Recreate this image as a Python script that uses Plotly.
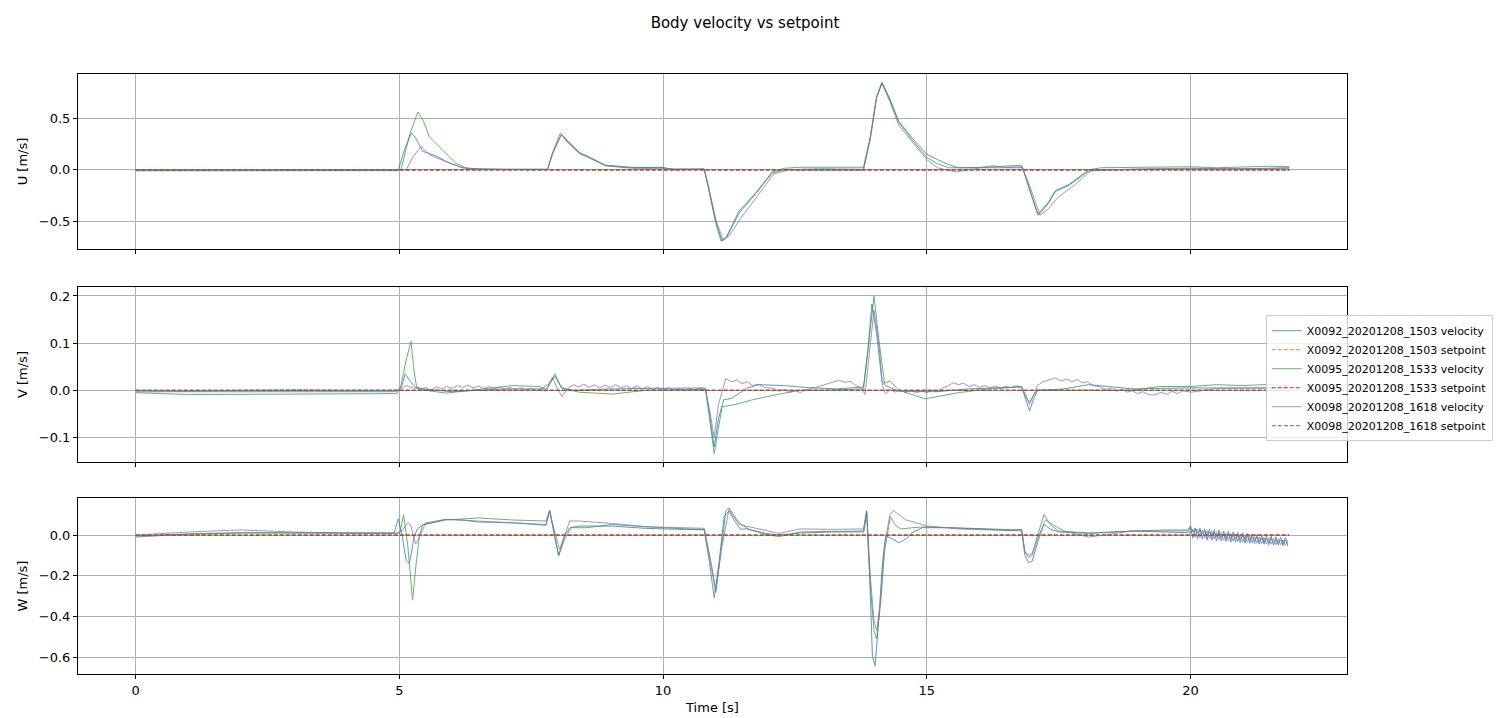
import plotly.graph_objects as go

# ---------------- data: (time [s], value [m/s]) ----------------
T_END = 21.875

# Surge velocity U
U_X0092 = [(0, 0.0), (4.9, 0.0), (4.98, 0.0), (5.1, 0.2), (5.23, 0.36), (5.32, 0.3), (5.44, 0.18),
           (5.69, 0.136), (5.95, 0.065), (6.2, 0.02), (6.5, 0.01), (7.0, 0.005), (7.81, 0.005),
           (7.9, 0.15), (8.07, 0.34), (8.2, 0.27), (8.41, 0.16), (8.57, 0.13), (8.75, 0.08),
           (8.91, 0.04), (9.4, 0.02), (9.98, 0.025), (10.2, 0.0), (10.78, 0.005), (10.85, -0.15),
           (11.0, -0.5), (11.12, -0.69), (11.2, -0.66), (11.44, -0.42), (11.76, -0.23),
           (12.07, -0.03), (12.3, 0.0), (12.6, 0.005), (13.0, 0.01), (13.8, 0.005), (13.93, 0.31),
           (14.05, 0.7), (14.15, 0.84), (14.3, 0.68), (14.47, 0.47), (14.72, 0.31), (15.0, 0.15),
           (15.2, 0.1), (15.42, 0.05), (15.6, 0.02), (16.0, 0.02), (16.3, 0.025), (16.82, 0.02),
           (16.95, -0.2), (17.12, -0.44), (17.3, -0.33), (17.44, -0.21), (17.7, -0.15),
           (18.07, -0.01), (18.5, 0.0), (19.0, 0.005), (20.0, 0.01), (21.0, 0.01), (T_END, 0.02)]

U_X0095 = [(0, -0.01), (2, -0.01), (4.95, -0.008), (5.03, 0.0), (5.2, 0.35), (5.35, 0.56), (5.45, 0.48),
           (5.57, 0.32), (5.7, 0.25), (5.82, 0.19), (6.07, 0.065), (6.29, 0.01), (6.6, 0.005),
           (7.81, 0.005), (7.9, 0.16), (8.05, 0.355), (8.2, 0.28), (8.41, 0.17), (8.57, 0.13),
           (8.91, 0.045), (9.4, 0.025), (9.98, 0.02), (10.2, 0.005), (10.78, 0.01), (10.85, -0.15),
           (11.0, -0.52), (11.1, -0.69), (11.2, -0.65), (11.44, -0.4), (11.76, -0.22), (12.07, -0.02),
           (12.3, 0.015), (12.6, 0.025), (13.0, 0.025), (13.8, 0.025), (13.93, 0.32), (14.05, 0.71),
           (14.15, 0.85), (14.3, 0.69), (14.47, 0.46), (14.72, 0.29), (15.0, 0.12), (15.2, 0.06),
           (15.42, 0.02), (15.8, 0.02), (16.3, 0.03), (16.6, 0.04), (16.8, 0.045), (16.95, -0.18),
           (17.1, -0.43), (17.3, -0.32), (17.44, -0.2), (17.7, -0.14), (18.07, 0.0), (18.3, 0.02),
           (19.0, 0.025), (20.0, 0.03), (20.5, 0.02), (21.0, 0.03), (21.5, 0.035), (T_END, 0.03)]

U_X0098 = [(0, 0.0), (5.1, 0.0), (5.13, 0.0), (5.25, 0.12), (5.41, 0.226), (5.57, 0.146), (5.88, 0.08),
           (6.2, 0.02), (6.5, 0.005), (7.81, 0.0), (7.9, 0.15), (8.07, 0.34), (8.2, 0.26), (8.41, 0.16),
           (8.57, 0.12), (8.91, 0.04), (9.4, 0.015), (10.0, 0.01), (10.78, 0.005), (10.85, -0.13),
           (11.0, -0.48), (11.14, -0.68), (11.25, -0.64), (11.5, -0.45), (11.8, -0.24), (12.1, -0.04),
           (12.4, 0.0), (12.6, -0.005), (13.0, -0.005), (13.8, -0.005), (13.93, 0.3), (14.05, 0.7),
           (14.15, 0.84), (14.3, 0.66), (14.47, 0.43), (14.72, 0.27), (15.0, 0.1), (15.2, 0.02),
           (15.55, -0.02), (15.8, 0.0), (16.24, 0.04), (16.5, 0.025), (16.8, 0.03), (16.95, -0.15),
           (17.15, -0.44), (17.3, -0.38), (17.5, -0.26), (17.8, -0.15), (18.1, -0.01), (19.0, 0.01),
           (20.0, 0.015), (21.0, 0.01), (T_END, 0.015)]

# Sway velocity V
V_X0092 = [(0, -0.003), (2, -0.003), (4.95, -0.003), (5.05, 0.01), (5.11, 0.035), (5.2, 0.02),
           (5.3, 0.007), (5.5, 0.002), (6.0, -0.003), (6.5, 0.0), (7.0, 0.003), (7.7, 0.003),
           (7.85, 0.015), (7.95, 0.03), (8.08, 0.005), (8.3, 0.0), (9.0, 0.003), (9.7, 0.004),
           (10.3, 0.005), (10.8, 0.005), (10.88, -0.05), (10.97, -0.12), (11.05, -0.06),
           (11.15, -0.02), (11.3, -0.017), (11.6, 0.005), (11.82, 0.012), (12.3, 0.01), (12.7, 0.006),
           (13.3, 0.003), (13.8, 0.007), (13.88, 0.08), (13.96, 0.183), (14.05, 0.12), (14.15, 0.02),
           (14.22, 0.01), (14.47, -0.002), (15.19, -0.003), (15.8, 0.003), (16.8, 0.007),
           (16.88, -0.02), (16.95, -0.044), (17.02, -0.02), (17.1, 0.0), (17.6, 0.003),
           (18.07, 0.012), (18.9, 0.003), (20.0, 0.005), (21.0, 0.005), (T_END, 0.005)]

V_X0095 = [(0, -0.005), (1, -0.009), (3, -0.008), (4.95, -0.007), (5.02, 0.005), (5.12, 0.06),
           (5.22, 0.104), (5.28, 0.04), (5.33, 0.005), (5.5, 0.0), (5.88, -0.006), (6.5, 0.002),
           (7.15, 0.01), (7.65, 0.008), (7.8, 0.002), (7.95, 0.035), (8.07, 0.005), (8.41, -0.004),
           (9.04, -0.008), (9.67, 0.0), (10.81, 0.002), (10.88, -0.06), (10.97, -0.134),
           (11.05, -0.08), (11.12, -0.035), (11.37, -0.03), (11.7, -0.02), (12.2, -0.008),
           (12.6, 0.0), (13.0, 0.0), (13.8, 0.003), (13.9, 0.1), (14.0, 0.2), (14.1, 0.1),
           (14.2, 0.015), (14.3, 0.02), (14.47, 0.0), (14.97, -0.018), (15.6, -0.005), (16.1, 0.002),
           (16.8, 0.008), (16.88, -0.015), (16.95, -0.025), (17.03, -0.01), (17.1, 0.0), (17.6, 0.0),
           (18.9, 0.0), (19.4, 0.008), (20.0, 0.008), (20.5, 0.012), (20.97, 0.01), (21.4, 0.012),
           (T_END, 0.01)]

V_X0098 = [(0, 0.0), (1, -0.002), (2, 0.0), (3, 0.001), (4, 0.0), (4.95, 0.0), (5.05, 0.004),
           (5.1, 0.008), (5.15, 0.01), (5.2, 0.007), (5.3, 0.004), (5.4, 0.002), (5.5, 0.006),
           (5.6, 0.0), (5.7, 0.007), (5.8, 0.003), (5.9, 0.008), (6.0, 0.004), (6.1, 0.01),
           (6.2, 0.006), (6.3, 0.011), (6.4, 0.005), (6.5, 0.009), (6.6, 0.004), (6.7, 0.008),
           (6.8, 0.003), (6.9, 0.007), (7.0, 0.002), (7.1, 0.006), (7.2, 0.001), (7.3, 0.005),
           (7.4, 0.0), (7.5, 0.004), (7.6, -0.001), (7.7, 0.003), (7.78, -0.002), (7.9, 0.028),
           (7.97, 0.01), (8.08, -0.013), (8.2, 0.004), (8.3, 0.012), (8.4, 0.007), (8.5, 0.013),
           (8.6, 0.006), (8.7, 0.012), (8.8, 0.005), (8.9, 0.011), (9.0, 0.006), (9.1, 0.012),
           (9.2, 0.005), (9.3, 0.01), (9.4, 0.004), (9.5, 0.009), (9.6, 0.003), (9.7, 0.008),
           (9.8, 0.002), (9.9, 0.006), (10.0, 0.001), (10.1, 0.005), (10.2, 0.0), (10.3, 0.004),
           (10.4, -0.001), (10.5, 0.004), (10.6, 0.0), (10.7, 0.005), (10.8, 0.001), (10.88, -0.04),
           (10.97, -0.1), (11.05, -0.03), (11.19, 0.025), (11.3, 0.018), (11.4, 0.022), (11.5, 0.014),
           (11.6, 0.018), (11.7, 0.01), (11.8, 0.013), (11.93, 0.006), (12.1, 0.004), (12.2, -0.002),
           (12.3, 0.002), (12.4, -0.004), (12.5, 0.0), (12.6, -0.005), (12.7, 0.001), (12.8, 0.003),
           (12.95, 0.008), (13.1, 0.012), (13.2, 0.016), (13.33, 0.021), (13.45, 0.017),
           (13.55, 0.019), (13.65, 0.01), (13.75, 0.006), (13.83, -0.009), (13.92, 0.09), (14.0, 0.17),
           (14.1, 0.09), (14.16, 0.01), (14.22, -0.008), (14.3, 0.002), (14.4, -0.004), (14.5, 0.001),
           (14.6, -0.005), (14.7, 0.0), (14.8, -0.006), (14.9, -0.001), (15.0, -0.005), (15.1, 0.0),
           (15.2, -0.003), (15.3, 0.005), (15.4, 0.009), (15.5, 0.016), (15.6, 0.012), (15.7, 0.015),
           (15.8, 0.008), (15.9, 0.012), (16.0, 0.006), (16.1, 0.01), (16.2, 0.005), (16.3, 0.009),
           (16.4, 0.004), (16.5, 0.009), (16.6, 0.005), (16.7, 0.01), (16.8, 0.006), (16.88, -0.01),
           (16.95, -0.03), (17.03, -0.01), (17.1, 0.01), (17.2, 0.018), (17.3, 0.022), (17.44, 0.026),
           (17.55, 0.02), (17.65, 0.024), (17.75, 0.018), (17.85, 0.023), (17.95, 0.016),
           (18.05, 0.018), (18.15, 0.01), (18.26, 0.008), (18.4, 0.002), (18.5, 0.005), (18.6, -0.002),
           (18.7, 0.002), (18.8, -0.004), (18.9, -0.001), (19.0, -0.007), (19.1, -0.003),
           (19.2, -0.009), (19.33, -0.01), (19.45, -0.004), (19.55, -0.009), (19.65, -0.002),
           (19.75, -0.007), (19.85, -0.001), (20.02, -0.004), (20.5, 0.004), (21.0, 0.005),
           (21.5, 0.005), (T_END, 0.005)]

# Heave velocity W
W_X0092 = [(0, -0.005), (1, 0.005), (2, 0.01), (3, 0.01), (4, 0.008), (4.9, 0.01), (4.98, 0.08),
           (5.05, 0.0), (5.13, -0.125), (5.19, -0.14), (5.28, -0.01), (5.34, 0.03), (5.46, 0.052),
           (5.88, 0.077), (6.2, 0.074), (6.5, 0.064), (7.15, 0.06), (7.78, 0.048), (7.85, 0.118),
           (7.91, 0.044), (8.02, -0.1), (8.13, -0.005), (8.23, 0.036), (8.41, 0.044), (9.04, 0.044),
           (9.67, 0.033), (10.3, 0.028), (10.78, 0.028), (10.88, -0.136), (10.97, -0.308),
           (11.06, -0.136), (11.16, 0.093), (11.25, 0.118), (11.38, 0.06), (11.47, 0.028),
           (11.57, 0.031), (11.76, 0.02), (11.95, 0.008), (12.2, 0.0), (12.6, 0.01), (13.2, 0.015),
           (13.81, 0.015), (13.86, 0.118), (13.92, -0.218), (13.97, -0.595), (14.02, -0.644),
           (14.1, -0.38), (14.16, -0.136), (14.22, -0.005), (14.31, -0.013), (14.47, -0.038),
           (14.6, -0.02), (14.72, 0.011), (14.91, 0.036), (15.42, 0.036), (16.05, 0.028),
           (16.62, 0.023), (16.8, 0.028), (16.86, -0.1), (16.93, -0.136), (17.0, -0.128),
           (17.1, -0.038), (17.22, 0.052), (17.35, 0.028), (17.5, 0.015), (18.07, 0.008),
           (18.9, 0.02), (19.5, 0.015), (19.95, 0.011)]

W_X0095 = [(0, -0.01), (1, 0.005), (2, 0.012), (3, 0.01), (4, 0.01), (4.95, 0.008), (5.01, 0.01),
           (5.08, 0.1), (5.16, -0.054), (5.25, -0.32), (5.32, -0.136), (5.38, -0.005), (5.44, 0.05),
           (5.63, 0.06), (5.88, 0.074), (6.5, 0.084), (7.15, 0.074), (7.78, 0.069), (7.85, 0.123),
           (7.92, 0.028), (8.02, -0.103), (8.13, -0.02), (8.26, 0.036), (8.54, 0.036), (9.04, 0.052),
           (9.67, 0.041), (10.3, 0.031), (10.78, 0.025), (10.9, -0.136), (11.0, -0.283),
           (11.09, -0.103), (11.19, 0.118), (11.25, 0.134), (11.44, 0.06), (11.63, 0.028),
           (11.95, 0.003), (12.2, -0.008), (12.6, 0.015), (13.2, 0.018), (13.8, 0.02), (13.86, 0.115),
           (13.93, -0.25), (14.0, -0.47), (14.05, -0.51), (14.12, -0.35), (14.2, -0.08), (14.31, 0.09),
           (14.4, 0.05), (14.5, 0.03), (14.9, 0.04), (15.6, 0.035), (16.8, 0.025), (16.86, -0.08),
           (16.93, -0.1), (17.0, -0.09), (17.1, 0.0), (17.22, 0.1), (17.35, 0.05), (17.5, 0.02),
           (18.07, 0.01), (18.9, 0.02), (19.5, 0.025), (19.95, 0.025)]

W_X0098 = [(0, 0.0), (1, 0.015), (2, 0.025), (3, 0.015), (4, 0.01), (4.95, 0.01), (5.05, 0.02),
           (5.16, 0.06), (5.21, 0.05), (5.31, -0.045), (5.38, -0.01), (5.46, 0.04), (5.5, 0.06),
           (5.88, 0.077), (6.5, 0.069), (7.78, 0.052), (7.85, 0.118), (7.93, 0.03), (8.04, -0.07),
           (8.13, 0.0), (8.23, 0.069), (8.41, 0.069), (9.04, 0.057), (9.67, 0.041), (10.78, 0.033),
           (10.9, -0.12), (11.0, -0.267), (11.1, -0.08), (11.25, 0.126), (11.44, 0.052),
           (11.57, 0.044), (11.7, 0.036), (12.2, 0.008), (12.6, 0.03), (13.2, 0.028), (13.8, 0.03),
           (13.86, 0.12), (13.93, -0.2), (14.0, -0.42), (14.05, -0.47), (14.12, -0.33), (14.2, -0.05),
           (14.3, 0.1), (14.37, 0.12), (14.6, 0.075), (15.0, 0.045), (15.6, 0.03), (16.8, 0.02),
           (16.86, -0.08), (16.93, -0.11), (17.0, -0.1), (17.1, -0.02), (17.25, 0.075), (17.4, 0.05),
           (17.6, 0.02), (18.07, -0.01), (18.5, 0.005), (18.9, 0.02), (19.95, 0.02)]

# Heave oscillation at the end of the runs (shared sample times)
W_TAIL_T = [20.0, 20.045, 20.09, 20.135, 20.18, 20.225, 20.27, 20.315, 20.36, 20.405, 20.45,
            20.495, 20.54, 20.585, 20.63, 20.675, 20.72, 20.765, 20.81, 20.855, 20.9, 20.945,
            20.99, 21.035, 21.08, 21.125, 21.17, 21.215, 21.26, 21.305, 21.35, 21.395, 21.44,
            21.485, 21.53, 21.575, 21.62, 21.665, 21.71, 21.755, 21.8, 21.845]
W_TAIL_X0092 = [0.04, -0.015, 0.035, -0.02, 0.035, -0.02, 0.03, -0.025, 0.03, -0.025, 0.025, -0.03,
                0.025, -0.03, 0.02, -0.032, 0.02, -0.035, 0.015, -0.035, 0.012, -0.038, 0.01, -0.04,
                0.008, -0.04, 0.005, -0.042, 0.002, -0.045, 0.0, -0.045, -0.003, -0.048, -0.005,
                -0.05, -0.008, -0.05, -0.01, -0.052, -0.012, -0.055]
W_TAIL_X0095 = [0.045, 0.015, 0.03, 0.012, 0.025, 0.005, 0.02, 0.0, 0.015, -0.005, 0.012, -0.008,
                0.01, -0.01, 0.005, -0.012, 0.002, -0.015, 0.0, -0.018, -0.003, -0.02, -0.005,
                -0.022, -0.008, -0.025, -0.01, -0.027, -0.012, -0.03, -0.015, -0.032, -0.018,
                -0.034, -0.02, -0.036, -0.022, -0.038, -0.025, -0.04, -0.027, -0.042]
W_TAIL_X0098 = [0.01, 0.03, -0.01, 0.028, -0.012, 0.025, -0.015, 0.022, -0.018, 0.02, -0.02, 0.016,
                -0.022, 0.013, -0.025, 0.01, -0.027, 0.007, -0.03, 0.004, -0.032, 0.001, -0.034,
                -0.002, -0.036, -0.004, -0.038, -0.007, -0.04, -0.01, -0.042, -0.012, -0.044,
                -0.015, -0.045, -0.017, -0.047, -0.02, -0.048, -0.022, -0.05, -0.025]

# Setpoints are zero for the whole run
SETPOINT = [(0, 0.0), (T_END, 0.0)]

RUNS = ["X0092_20201208_1503", "X0095_20201208_1533", "X0098_20201208_1618"]
VEL_COLORS = ["#1f77b4", "#2ca02c", "#9467bd"]
SP_COLORS = ["#ff7f0e", "#d62728", "#8c564b"]
Y_TITLES = ["U [m/s]", "V [m/s]", "W [m/s]"]


def unzip(pairs):
    return [p[0] for p in pairs], [p[1] for p in pairs]


def with_tail(pairs, tail):
    t, v = unzip(pairs)
    return t + W_TAIL_T, v + tail


panels = [
    [unzip(U_X0092), unzip(U_X0095), unzip(U_X0098)],
    [unzip(V_X0092), unzip(V_X0095), unzip(V_X0098)],
    [with_tail(W_X0092, W_TAIL_X0092), with_tail(W_X0095, W_TAIL_X0095),
     with_tail(W_X0098, W_TAIL_X0098)],
]

fig = go.Figure()
for p, series in enumerate(panels):
    xa = "x" if p == 0 else f"x{p + 1}"
    ya = "y" if p == 0 else f"y{p + 1}"
    for r, (t, v) in enumerate(series):
        fig.add_trace(go.Scatter(
            x=t, y=v, mode="lines", name=f"{RUNS[r]} velocity",
            line=dict(color=VEL_COLORS[r], width=1), opacity=0.75,
            xaxis=xa, yaxis=ya, showlegend=(p == 0), legendrank=2 * r + 1))
        st, sv = unzip(SETPOINT)
        fig.add_trace(go.Scatter(
            x=st, y=sv, mode="lines", name=f"{RUNS[r]} setpoint",
            line=dict(color=SP_COLORS[r], width=1.2, dash="4px,2px"), opacity=0.8,
            xaxis=xa, yaxis=ya, showlegend=(p == 0), legendrank=2 * r + 2))

FONT = "DejaVu Sans, Arial, sans-serif"
axis_style = dict(showline=True, linecolor="black", linewidth=1, mirror=True,
                  ticks="outside", ticklen=4, tickcolor="black", tickwidth=1,
                  showgrid=True, gridcolor="#b0b0b0", gridwidth=1, zeroline=False,
                  automargin=False, tickfont=dict(size=13, color="black"))

x_range = [-1.094, 22.969]
domains = [[0.7083, 1.0], [0.3533, 0.645], [0.0, 0.2933]]
y_ranges = [[-0.767, 0.928], [-0.152, 0.219], [-0.683, 0.182]]
y_ticks = [[-0.5, 0.0, 0.5], [-0.1, 0.0, 0.1, 0.2], [-0.6, -0.4, -0.2, 0.0]]

layout = dict(
    width=1505, height=718,
    margin=dict(l=78, r=156, t=74, b=44),
    paper_bgcolor="white", plot_bgcolor="white",
    font=dict(family=FONT, size=13, color="black"),
    title=dict(text="Body velocity vs setpoint", x=0.495, xanchor="center",
               y=0.969, yanchor="middle", font=dict(size=15)),
    legend=dict(x=0.936, y=0.598, xanchor="left", yanchor="top",
                bgcolor="rgba(255,255,255,0.8)", bordercolor="#cccccc", borderwidth=1,
                font=dict(size=11), tracegroupgap=0, itemwidth=30),
)
for p in range(3):
    sx = "" if p == 0 else str(p + 1)
    layout[f"xaxis{sx}"] = dict(axis_style, range=x_range, tickvals=[0, 5, 10, 15, 20],
                                ticktext=["0", "5", "10", "15", "20"],
                                showticklabels=(p == 2), anchor=f"y{sx}",
                                **({} if p == 2 else {"matches": "x3"}))
    layout[f"yaxis{sx}"] = dict(axis_style, range=y_ranges[p], domain=domains[p],
                                tickvals=y_ticks[p], tickformat=".1f",
                                title=dict(text=Y_TITLES[p], standoff=8, font=dict(size=13)),
                                anchor=f"x{sx}")
layout["xaxis3"]["title"] = dict(text="Time [s]", standoff=6, font=dict(size=13))

fig.update_layout(**layout)
fig.write_html("out.html")
